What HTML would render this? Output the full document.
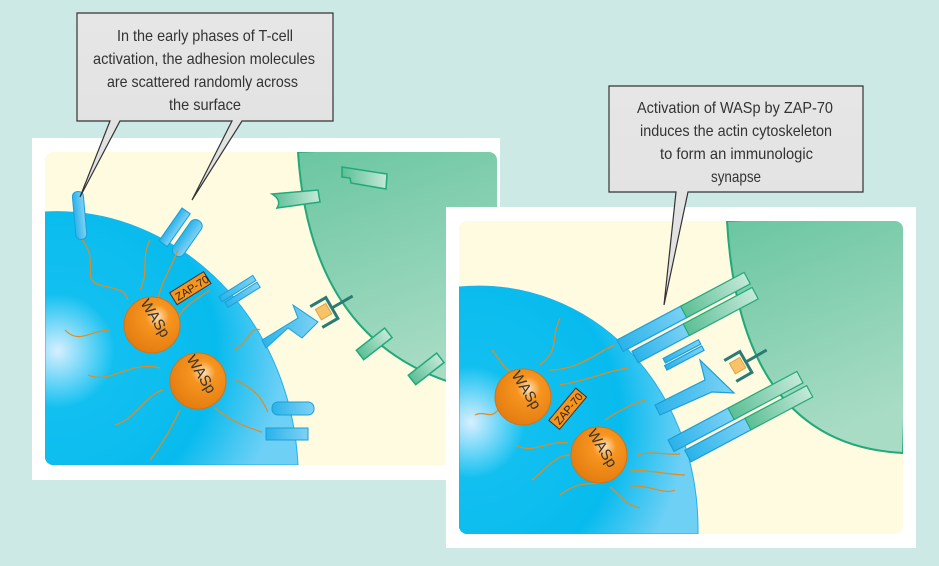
<!DOCTYPE html>
<html><head><meta charset="utf-8"><style>
html,body{margin:0;padding:0;background:#cde9e6;}
svg{display:block}
text{font-family:"Liberation Sans",sans-serif;}
</style></head><body>
<svg width="939" height="566" viewBox="0 0 939 566" xmlns="http://www.w3.org/2000/svg">
<defs>
<radialGradient id="blu" cx="0.05" cy="0.55" r="0.9">
<stop offset="0" stop-color="#d6efff"/><stop offset="0.25" stop-color="#12c0f0"/><stop offset="0.7" stop-color="#08bbee"/><stop offset="1" stop-color="#6fd0f6"/></radialGradient>
<linearGradient id="grn" x1="0" y1="0" x2="0.3" y2="1"><stop offset="0" stop-color="#68c5a0"/><stop offset="1" stop-color="#a8dcc4"/></linearGradient>
<radialGradient id="org" cx="0.6" cy="0.35" r="0.7"><stop offset="0" stop-color="#ffe1b5"/><stop offset="0.3" stop-color="#f7951f"/><stop offset="1" stop-color="#e37b10"/></radialGradient>
<linearGradient id="box" x1="0" y1="0" x2="0" y2="1"><stop offset="0" stop-color="#e6e6e6"/><stop offset="1" stop-color="#e0e0e0"/></linearGradient>
<linearGradient id="rb" x1="0" y1="0" x2="1" y2="0"><stop offset="0" stop-color="#2ab3ea"/><stop offset="1" stop-color="#7fd2f5"/></linearGradient>
<linearGradient id="rg" x1="0" y1="0" x2="1" y2="0"><stop offset="0" stop-color="#5bbf95"/><stop offset="1" stop-color="#c5e9d9"/></linearGradient>
</defs>
<rect width="939" height="566" fill="#cde9e6"/>

<!-- LEFT PANEL -->
<rect x="32" y="138" width="468" height="342" fill="#fff"/>
<rect x="45" y="152" width="452" height="313" rx="8" fill="#fefbe0"/>
<clipPath id="c1"><rect x="45" y="152" width="452" height="313" rx="8"/></clipPath>
<g clip-path="url(#c1)">
<path d="M298,152 Q312,372 510,395 L510,140 Z" fill="url(#grn)" stroke="#22a97a" stroke-width="2"/>
<path d="M45,212 C170,205 290,310 298,465 L45,465 Z" fill="url(#blu)" stroke="#22b0e8" stroke-width="1"/>
</g>
<g fill="url(#rg)" stroke="#22a97a" stroke-width="1.5">
<path d="M272,194 L318,190 L320,202 L277,208 Q282,200 272,194 Z"/>
<path d="M342,167 L387,174 L386,189 L351,183 L350,178 L342,177 Z"/>
<g transform="translate(360,355) rotate(-38)"><rect x="0" y="-6" width="36" height="12"/></g>
<g transform="translate(412,380) rotate(-38)"><rect x="0" y="-6" width="36" height="12"/></g>
</g>
<g fill="url(#rb)" stroke="#1a9fd8" stroke-width="1">
<g transform="translate(72,192) rotate(-5)"><rect x="0" y="0" width="11" height="48" rx="5"/></g>
<g transform="translate(182,208) rotate(35)"><rect x="0" y="0" width="10" height="40"/></g>
<g transform="translate(198,220) rotate(35)"><rect x="-5" y="0" width="13" height="42" rx="6"/></g>
<g transform="translate(221,300) rotate(-32)"><rect x="0" y="-4" width="40" height="6"/><rect x="2" y="4" width="38" height="6"/></g>
<path d="M262,340 L298,318 L293,305 L318,322 L302,338 L288,328 L266,348 Z"/>
<rect x="272" y="402" width="42" height="13" rx="6"/>
<rect x="266" y="428" width="42" height="12"/>
</g>
<g transform="translate(318,316) rotate(-30)"><path d="M-2,-12 L16,-12 L16,12 L-2,12" fill="none" stroke="#2a7b73" stroke-width="3"/><rect x="1" y="-7" width="12" height="12" fill="#f6c36a" stroke="#e2a245"/><line x1="16" y1="0" x2="40" y2="0" stroke="#2a7b73" stroke-width="3"/></g>
<g fill="none" stroke="#e8891a" stroke-width="1.2">
<path d="M82,240 C100,260 80,280 100,285 S125,290 128,300"/>
<path d="M150,240 C140,260 150,270 140,290"/>
<path d="M178,250 C170,270 160,285 158,300"/>
<path d="M210,290 C195,300 185,305 178,318"/>
<path d="M65,330 C80,345 90,330 110,330"/>
<path d="M88,375 C110,385 130,360 160,368"/>
<path d="M115,425 C135,420 145,395 163,390"/>
<path d="M150,460 C165,440 170,430 180,410"/>
<path d="M233,350 C248,345 250,325 260,330"/>
<path d="M236,380 C255,390 260,395 268,412"/>
<path d="M215,408 C230,420 240,425 262,432"/>
</g>
<circle cx="152" cy="325" r="28" fill="url(#org)" stroke="#d87010"/>
<circle cx="198" cy="381" r="28" fill="url(#org)" stroke="#d87010"/>
<text transform="translate(140,303) rotate(58)" font-size="15" fill="#333">WASp</text>
<text transform="translate(186,359) rotate(58)" font-size="15" fill="#333">WASp</text>
<g transform="translate(176,303) rotate(-32)"><rect x="0" y="-12" width="40" height="14" fill="#f7941d" stroke="#333"/><text x="3" y="-0.5" font-size="11" fill="#222">ZAP-70</text></g>

<!-- RIGHT PANEL -->
<rect x="446" y="207" width="470" height="341" fill="#fff"/>
<rect x="459" y="221" width="444" height="313" rx="8" fill="#fefbe0"/>
<clipPath id="c2"><rect x="459" y="221" width="444" height="313" rx="8"/></clipPath>
<g clip-path="url(#c2)">
<path d="M727,221 Q740,445 903,453 L910,210 Z" fill="url(#grn)" stroke="#22a97a" stroke-width="2"/>
<path d="M459,287 C590,275 700,385 698,534 L459,534 Z" fill="url(#blu)" stroke="#22b0e8"/>
</g>
<g stroke-width="1.2">
<g transform="translate(617,340) rotate(-28)">
<rect x="0" y="0" width="75" height="13" fill="url(#rb)" stroke="#1a9fd8"/>
<rect x="72" y="0" width="72" height="13" fill="url(#rg)" stroke="#22a97a"/>
<rect x="8" y="17" width="60" height="13" fill="url(#rb)" stroke="#1a9fd8"/>
<rect x="66" y="17" width="78" height="13" fill="url(#rg)" stroke="#22a97a"/>
<rect x="32" y="38" width="40" height="5" fill="url(#rb)" stroke="#1a9fd8"/>
<rect x="30" y="45" width="42" height="5" fill="url(#rb)" stroke="#1a9fd8"/>
</g>
<g transform="translate(668,440) rotate(-28)">
<rect x="0" y="0" width="70" height="13" fill="url(#rb)" stroke="#1a9fd8"/>
<rect x="68" y="0" width="78" height="13" fill="url(#rg)" stroke="#22a97a"/>
<rect x="10" y="17" width="70" height="13" fill="url(#rb)" stroke="#1a9fd8"/>
<rect x="78" y="17" width="70" height="13" fill="url(#rg)" stroke="#22a97a"/>
</g>
<path d="M655,405 L705,380 L700,360 L734,393 L712,392 L660,415 Z" fill="url(#rb)" stroke="#1a9fd8"/>
</g>
<g transform="translate(732,370) rotate(-30)"><path d="M-2,-12 L16,-12 L16,12 L-2,12" fill="none" stroke="#2a7b73" stroke-width="3"/><rect x="1" y="-7" width="12" height="12" fill="#f6c36a" stroke="#e2a245"/><line x1="16" y1="0" x2="40" y2="0" stroke="#2a7b73" stroke-width="3"/></g>
<g fill="none" stroke="#e8891a" stroke-width="1.2">
<path d="M492,350 C500,360 505,370 512,372"/>
<path d="M560,318 C550,340 560,350 540,365"/>
<path d="M550,370 C580,370 600,350 615,345"/>
<path d="M560,385 C590,380 610,370 628,368"/>
<path d="M475,415 C485,410 490,420 498,410"/>
<path d="M515,445 C535,455 545,440 568,443"/>
<path d="M532,480 C545,470 555,455 570,455"/>
<path d="M560,495 C580,480 590,485 600,483"/>
<path d="M605,420 C620,410 630,405 645,400"/>
<path d="M635,456 C650,450 660,455 680,454"/>
<path d="M630,470 C650,470 670,475 685,475"/>
<path d="M630,486 C650,485 665,495 675,490"/>
<path d="M610,487 C620,495 625,505 640,508"/>
</g>
<circle cx="523" cy="397" r="28" fill="url(#org)" stroke="#d87010"/>
<circle cx="599" cy="455" r="28" fill="url(#org)" stroke="#d87010"/>
<text transform="translate(511,375) rotate(58)" font-size="15" fill="#333">WASp</text>
<text transform="translate(587,433) rotate(58)" font-size="15" fill="#333">WASp</text>
<g transform="translate(558,428) rotate(-50)"><rect x="0" y="-12" width="42" height="14" fill="#f7941d" stroke="#333"/><text x="3" y="-0.5" font-size="11" fill="#222">ZAP-70</text></g>

<!-- CALLOUTS -->
<path d="M77,13 L333,13 L333,121 L242,121 L192,200 L232,121 L120,121 L80,197 L110,121 L77,121 Z" fill="url(#box)" stroke="#333" stroke-width="1.2"/>
<g font-size="16" fill="#333">
<text x="117" y="41" textLength="176" lengthAdjust="spacingAndGlyphs">In the early phases of T-cell</text>
<text x="93" y="64" textLength="222" lengthAdjust="spacingAndGlyphs">activation, the adhesion molecules</text>
<text x="107" y="87" textLength="191" lengthAdjust="spacingAndGlyphs">are scattered randomly across</text>
<text x="169" y="110" textLength="72" lengthAdjust="spacingAndGlyphs">the surface</text>
</g>
<path d="M609,86 L863,86 L863,192 L688,192 L664,305 L676,192 L609,192 Z" fill="url(#box)" stroke="#333" stroke-width="1.2"/>
<g font-size="16" fill="#333">
<text x="637" y="113" textLength="196" lengthAdjust="spacingAndGlyphs">Activation of WASp by ZAP-70</text>
<text x="640" y="136" textLength="192" lengthAdjust="spacingAndGlyphs">induces the actin cytoskeleton</text>
<text x="660" y="159" textLength="153" lengthAdjust="spacingAndGlyphs">to form an immunologic</text>
<text x="711" y="182" textLength="50" lengthAdjust="spacingAndGlyphs">synapse</text>
</g>
</svg>
</body></html>
